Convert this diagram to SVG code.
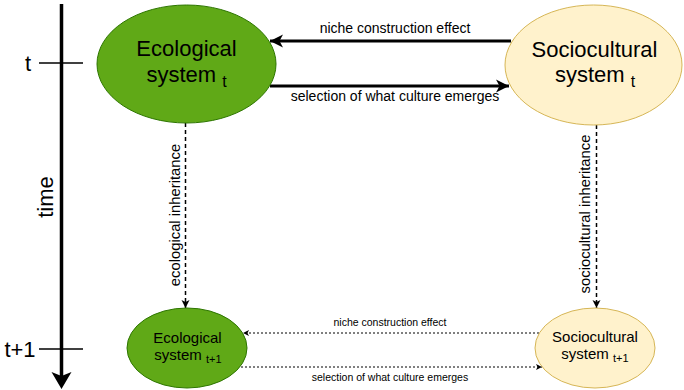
<svg xmlns="http://www.w3.org/2000/svg" width="684" height="390" viewBox="0 0 684 390">
<defs>
<style>
text{font-family:"Liberation Sans",Arial,sans-serif;fill:#000}
.eco{fill:#60a917;stroke:#2d7600;stroke-width:1}
.soc{fill:#fff2cc;stroke:#d6b656;stroke-width:1}
.thick{stroke:#000;stroke-width:3;fill:none}
.dash{stroke:#000;stroke-width:1.5;fill:none;stroke-dasharray:4 3}
.dot{stroke:#000;stroke-width:1;fill:none;stroke-dasharray:2 2}
.big{font-size:22px}
.small{font-size:15px}
.lbl{font-size:14px}
.vlbl{font-size:14.8px}
.tiny{font-size:10.5px}
</style>
<marker id="ah" markerUnits="userSpaceOnUse" markerWidth="16" markerHeight="16" refX="14" refY="8" orient="auto" viewBox="0 0 16 16">
<path d="M14,8 L1,1.5 L4.5,8 L1,14.5 Z" fill="#000"/>
</marker>
<marker id="ahs" markerUnits="userSpaceOnUse" markerWidth="10" markerHeight="10" refX="9" refY="5" orient="auto" viewBox="0 0 10 10">
<path d="M9,5 L1,1 L3,5 L1,9 Z" fill="#000"/>
</marker>
<marker id="aht" markerUnits="userSpaceOnUse" markerWidth="8" markerHeight="8" refX="7" refY="4" orient="auto" viewBox="0 0 8 8">
<path d="M7,4 L1,1 L2.5,4 L1,7 Z" fill="#000"/>
</marker>
</defs>

<g id="timeline">
<line x1="61.5" y1="4" x2="61.5" y2="378" stroke="#000" stroke-width="3.5"/>
<path d="M61.5,389 L51.5,372 L61.5,376 L71.5,372 Z" fill="#000"/>
<line x1="39" y1="63" x2="83" y2="63" stroke="#000" stroke-width="1.3"/>
<line x1="39" y1="349" x2="83" y2="349" stroke="#000" stroke-width="1.3"/>
<text x="28" y="71" class="big" text-anchor="middle">t</text>
<text x="20" y="357" class="big" text-anchor="middle">t+1</text>
<text transform="translate(53,197) rotate(-90)" class="big" text-anchor="middle">time</text>
</g>

<g id="connectors">
<line class="thick" x1="511" y1="41" x2="270" y2="41" marker-end="url(#ah)"/>
<text x="395" y="33" class="lbl" text-anchor="middle">niche construction effect</text>
<line class="thick" x1="270" y1="86" x2="509" y2="86" marker-end="url(#ah)"/>
<text x="395" y="101" class="lbl" text-anchor="middle">selection of what culture emerges</text>
<line class="dash" x1="185.5" y1="123" x2="185.5" y2="308" marker-end="url(#ahs)"/>
<text transform="translate(180,215) rotate(-90)" class="vlbl" text-anchor="middle">ecological inheritance</text>
<line class="dash" x1="596.5" y1="125" x2="596.5" y2="308" marker-end="url(#ahs)"/>
<text transform="translate(590,214) rotate(-90)" class="vlbl" text-anchor="middle">sociocultural inheritance</text>
<line class="dot" x1="539" y1="333" x2="243" y2="333" marker-end="url(#aht)"/>
<text x="390" y="326" class="tiny" text-anchor="middle">niche construction effect</text>
<line class="dot" x1="241" y1="367" x2="542" y2="367" marker-end="url(#aht)"/>
<text x="390" y="381" class="tiny" text-anchor="middle">selection of what culture emerges</text>
</g>

<g id="eco_t">
<ellipse class="eco" cx="186.5" cy="64" rx="89.5" ry="59"/>
<text x="186.5" y="56" class="big" text-anchor="middle">Ecological</text>
<text x="186.5" y="82" class="big" text-anchor="middle">system <tspan font-size="16" dy="5">t</tspan></text>
</g>

<g id="soc_t">
<ellipse class="soc" cx="593.5" cy="65" rx="88.5" ry="60"/>
<text x="594.5" y="57" class="big" text-anchor="middle">Sociocultural</text>
<text x="595" y="82" class="big" text-anchor="middle">system <tspan font-size="16" dy="5">t</tspan></text>
</g>

<g id="eco_t1">
<ellipse class="eco" cx="187" cy="348" rx="60" ry="40"/>
<text x="187.5" y="343" class="small" text-anchor="middle">Ecological</text>
<text x="188" y="360" class="small" text-anchor="middle">system <tspan font-size="11" dy="3">t+1</tspan></text>
</g>

<g id="soc_t1">
<ellipse class="soc" cx="595" cy="348" rx="60" ry="40"/>
<text x="595" y="342" class="small" text-anchor="middle">Sociocultural</text>
<text x="595" y="359" class="small" text-anchor="middle">system <tspan font-size="11" dy="3">t+1</tspan></text>
</g>
</svg>
